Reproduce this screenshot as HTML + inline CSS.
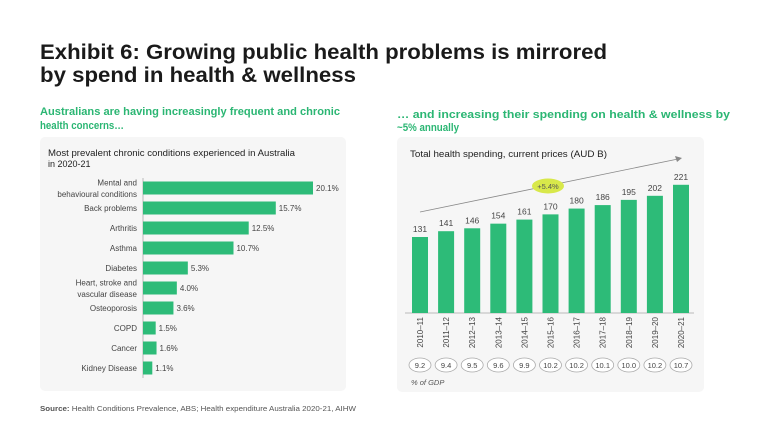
<!DOCTYPE html>
<html><head><meta charset="utf-8"><style>
html,body{margin:0;padding:0;background:#fff;}
svg{display:block;font-family:"Liberation Sans",sans-serif;}
</style></head><body>
<svg id="s" width="768" height="432" viewBox="0 0 768 432" xmlns="http://www.w3.org/2000/svg">
<text x="40" y="59" font-size="21" font-weight="bold" fill="#1a1a1a" textLength="567" lengthAdjust="spacingAndGlyphs">Exhibit 6: Growing public health problems is mirrored</text>
<text x="40" y="82" font-size="21" font-weight="bold" fill="#1a1a1a" textLength="316" lengthAdjust="spacingAndGlyphs">by spend in health &amp; wellness</text>
<text x="40" y="115" font-size="11" font-weight="bold" fill="#2bb673" textLength="300" lengthAdjust="spacingAndGlyphs">Australians are having increasingly frequent and chronic</text>
<text x="40" y="129" font-size="11" font-weight="bold" fill="#2bb673" textLength="84" lengthAdjust="spacingAndGlyphs">health concerns…</text>
<text x="397" y="118" font-size="11" font-weight="bold" fill="#2bb673" textLength="333" lengthAdjust="spacingAndGlyphs">… and increasing their spending on health &amp; wellness by</text>
<text x="397" y="131" font-size="11" font-weight="bold" fill="#2bb673" textLength="62" lengthAdjust="spacingAndGlyphs">~5% annually</text>
<rect x="40" y="137" width="306" height="254" rx="5" fill="#f6f6f6"/>
<rect x="397" y="137" width="307" height="255" rx="5" fill="#f6f6f6"/>
<text x="48" y="156" font-size="9" fill="#222" textLength="247" lengthAdjust="spacingAndGlyphs">Most prevalent chronic conditions experienced in Australia</text>
<text x="48" y="167" font-size="9" fill="#222">in 2020-21</text>
<text x="410" y="157" font-size="9" fill="#222" textLength="197" lengthAdjust="spacingAndGlyphs">Total health spending, current prices (AUD B)</text>
<g id="left"></g><g id="right"></g>
<text x="40" y="411" font-size="7.5" fill="#555" textLength="316" lengthAdjust="spacingAndGlyphs"><tspan font-weight="bold">Source:</tspan> Health Conditions Prevalence, ABS; Health expenditure Australia 2020-21, AIHW</text>
</svg>
<script>
const conditions = [["Mental and","behavioural conditions"],["Back problems"],["Arthritis"],["Asthma"],["Diabetes"],["Heart, stroke and","vascular disease"],["Osteoporosis"],["COPD"],["Cancer"],["Kidney Disease"]];
const prevalence = [20.1,15.7,12.5,10.7,5.3,4.0,3.6,1.5,1.6,1.1];
const years = ["2010–11","2011–12","2012–13","2013–14","2014–15","2015–16","2016–17","2017–18","2018–19","2019–20","2020–21"];
const spending = [131,141,146,154,161,170,180,186,195,202,221];
const gdpShare = ["9.2","9.4","9.5","9.6","9.9","10.2","10.2","10.1","10.0","10.2","10.7"];

const NS="http://www.w3.org/2000/svg";
function mk(parent,tag,attrs,text){const e=document.createElementNS(NS,tag);for(const k in attrs)e.setAttribute(k,attrs[k]);if(text!==undefined)e.textContent=text;parent.appendChild(e);return e;}
const GREEN="#2dbb78";
// left chart
const L=document.getElementById('left');
const x0=143, xs=v=>v*(170/20.1), y0=188, step=20;
const lax=mk(L,'line',{x1:x0,x2:x0,y1:178,y2:378,stroke:'#bbb','stroke-width':1});


prevalence.forEach((v,i)=>{
  const cy=y0+i*step;
  const r=mk(L,'rect',{x:x0,y:cy-6.5,width:xs(v),height:13,fill:GREEN});
  
  
  const t=mk(L,'text',{x:x0+xs(v)+3,y:cy+3,'font-size':8,fill:'#444'},v.toFixed(1)+'%');
  
  
  const lines=conditions[i];
  lines.forEach((ln,j)=>{
    const ly=cy+3+(j-(lines.length-1)/2)*11.5;
    const lt=mk(L,'text',{x:137,y:ly,'font-size':8,fill:'#444','text-anchor':'end'},ln);
    
    
  });
});
// right chart
const R=document.getElementById('right');
const base=313, ys=v=>v*(76/131), bx0=412, bstep=26.1, bw=16;
const rax=mk(R,'line',{x1:405,x2:694,y1:base,y2:base,stroke:'#bbb','stroke-width':1});


spending.forEach((v,i)=>{
  const x=bx0+i*bstep, cx=x+bw/2;
  const r=mk(R,'rect',{x:x,y:base-ys(v),width:bw,height:ys(v),fill:GREEN});
  
  
  const t=mk(R,'text',{x:cx,y:base-ys(v)-5,'font-size':8.5,fill:'#444','text-anchor':'middle'},String(v));
  
  
  const yl=mk(R,'text',{x:0,y:0,'font-size':8,fill:'#444','text-anchor':'end',transform:`translate(${cx+3},317) rotate(-90)`},years[i]);
  
  
  const c=mk(R,'ellipse',{cx:cx,cy:365,rx:11,ry:7,fill:'#fff',stroke:'#aaa','stroke-width':0.8});
  
  
  const g=mk(R,'text',{x:cx,y:368,'font-size':7.5,fill:'#444','text-anchor':'middle'},gdpShare[i]);
  
  
});
const gl=mk(R,'text',{x:411,y:385,'font-size':7.5,'font-style':'italic',fill:'#555'},'% of GDP');


const ar=mk(R,'line',{x1:420,y1:212,x2:678,y2:159,stroke:'#888','stroke-width':0.8});


const ah=mk(R,'polygon',{points:'682,158 675,156 677,162',fill:'#888'});


const be=mk(R,'ellipse',{cx:548,cy:186,rx:16,ry:7.5,fill:'#d8e84a'});


const bt=mk(R,'text',{x:548,y:189,'font-size':7.5,fill:'#555','text-anchor':'middle'},'+5.4%');


</script>
</body></html>
